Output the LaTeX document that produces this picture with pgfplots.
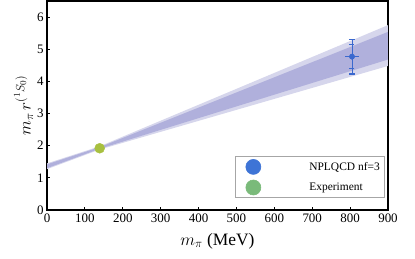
\documentclass[border=0pt]{standalone}
\usepackage{fontspec}
\setmainfont{Liberation Serif}
\usepackage{pgfplots}
\pgfplotsset{compat=1.18}
\definecolor{bandout}{RGB}{214,214,236}
\definecolor{bandin}{RGB}{176,176,220}
\definecolor{nplblue}{RGB}{58,104,206}
\definecolor{legblue}{RGB}{62,116,214}
\definecolor{leggreen}{RGB}{122,186,122}
\definecolor{expgreen}{RGB}{168,192,64}
\begin{document}
\begin{tikzpicture}
\path[use as bounding box] (-47bp,-49bp) rectangle (368bp,210bp);
\begin{axis}[
  at={(0,0)}, anchor=south west,
  scale only axis, width=341bp, height=209bp,
  xmin=0, xmax=900, ymin=0, ymax=6.5,
  xtick={0,100,...,900}, ytick={0,1,...,6},
  tick pos=left, tick align=inside, major tick length=3bp,
  axis line style={line width=1.3pt},
  tick style={line width=0.8pt, black},
  /pgf/number format/assume math mode=true,
  ticklabel style={font=\fontsize{13}{15}\selectfont},
  xlabel={$m_\pi$ (MeV)},
  ylabel={$m_\pi\, r^{(^1S_0)}$},
  label style={font=\fontsize{17.5}{20}\selectfont},
  xlabel style={yshift=-4bp},
  ylabel style={yshift=-3bp},
  legend style={at={(0.99,0.057)}, anchor=south east, draw=gray!70, line width=0.6pt,
    font=\fontsize{11.5}{13}\selectfont, row sep=5bp, inner sep=2.5bp},
  legend cell align=left,
]
% outer band
\addplot[draw=none, fill=bandout, forget plot] coordinates {
 (0,1.45) (139,1.98) (900,5.75) (900,4.48) (139,1.88) (0,1.27) } -- cycle;
% inner band
\addplot[draw=none, fill=bandin, forget plot] coordinates {
 (0,1.42) (139,1.955) (900,5.54) (900,4.68) (139,1.905) (0,1.30) } -- cycle;
% NPLQCD point: total (outer) and statistical (inner) errors
\addplot[nplblue, line width=1.4pt, only marks, mark=none, forget plot,
  error bars/.cd, y dir=both, y explicit, error mark options={line width=1.4pt, mark size=3bp, rotate=90}]
  coordinates {(805,4.77) +- (0,0.54)};
\addplot[nplblue, line width=1.4pt, only marks, mark=none, forget plot,
  error bars/.cd, y dir=both, y explicit, error mark options={line width=1.4pt, mark size=2.5bp, rotate=90}]
  coordinates {(805,4.77) +- (0,0.37)};
\addplot[nplblue, line width=1.4pt, only marks, mark=none, forget plot,
  error bars/.cd, x dir=both, x explicit, error mark options={line width=1.2pt, mark size=2.5bp}]
  coordinates {(805,4.77) +- (11,0)};
% Experiment
\addplot[only marks, mark=*, mark size=5bp, color=expgreen, forget plot] coordinates {(139,1.92)};
\addlegendimage{legend image code/.code={\path[draw=none] (-30bp,0) rectangle (40bp,0); \fill[legblue] (-14bp,0) circle (7.5bp);}}
\addlegendentry{NPLQCD nf=3\hspace{12bp}}
\addlegendimage{legend image code/.code={\path[draw=none] (-30bp,0) rectangle (40bp,0); \fill[leggreen] (-14bp,0) circle (7.5bp);}}
\addlegendentry{Experiment}
\end{axis}
\end{tikzpicture}
\end{document}
